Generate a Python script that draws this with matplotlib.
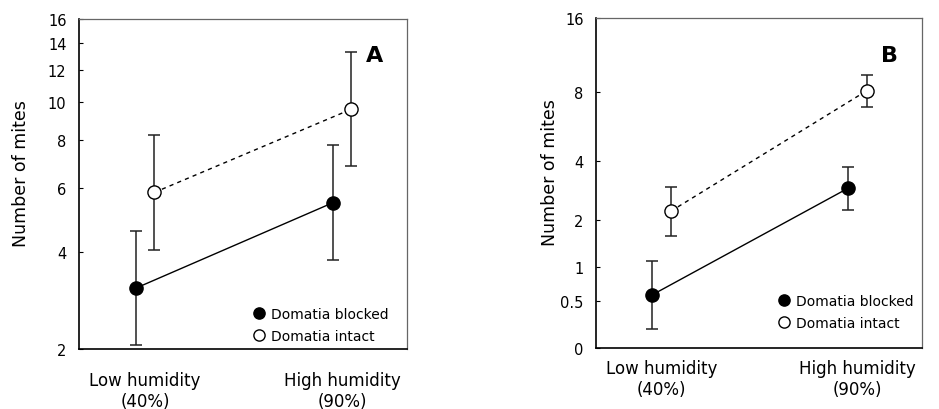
import numpy as np
import matplotlib
matplotlib.use('Agg')
import matplotlib.pyplot as plt

plt.rcParams['font.family'] = ['DejaVu Sans']

# categories on the x axis
categories = ['Low humidity\n(40%)', 'High humidity\n(90%)']

# panel A: mean and error-bar ends
a_blocked = [3.13, 5.47]
a_blocked_lo = [2.06, 3.80]
a_blocked_hi = [4.58, 7.76]
a_intact = [5.83, 9.58]
a_intact_lo = [4.06, 6.86]
a_intact_hi = [8.23, 13.3]

# panel B: mean and error-bar ends
b_blocked = [0.58, 2.95]
b_blocked_lo = [0.18, 2.28]
b_blocked_hi = [1.11, 3.75]
b_intact = [2.24, 8.12]
b_intact_lo = [1.62, 6.92]
b_intact_hi = [2.98, 9.43]

a_ticks = [2, 4, 6, 8, 10, 12, 14, 16]
b_ticks = [0, 0.5, 1, 2, 4, 8, 16]


# y axis is log(x + 1)
def fwd(v):
    return np.log2(np.asarray(v) + 1)


def inv(v):
    return 2 ** np.asarray(v) - 1


fig = plt.figure(figsize=(9.39, 4.10), dpi=100)
axA = fig.add_axes([0.0841, 0.1463, 0.3493, 0.8049])
axB = fig.add_axes([0.6347, 0.1488, 0.3472, 0.8040])

x = np.arange(len(categories))
off = 0.047


def panel(ax, blk, blo, bhi, itc, ilo, ihi, ticks, ylim, letter, xpad,
          ylab_x, leg_anchor):
    ax.set_yscale('function', functions=(fwd, inv))
    xb = x - off
    xi = x + off
    blk = np.array(blk); itc = np.array(itc)
    ax.errorbar(xb, blk, yerr=[blk - np.array(blo), np.array(bhi) - blk],
                fmt='none', ecolor='#222', elinewidth=1.1, capsize=4, capthick=1.1, zorder=2)
    ax.errorbar(xi, itc, yerr=[itc - np.array(ilo), np.array(ihi) - itc],
                fmt='none', ecolor='#222', elinewidth=1.1, capsize=4, capthick=1.1, zorder=2)
    ax.plot(xb, blk, '-', color='black', lw=1.0, marker='o', ms=9.5,
            mfc='black', mec='black', zorder=3, label='Domatia blocked')
    ax.plot(xi, itc, '--', color='black', lw=1.0, dashes=(3, 3), marker='o', ms=9.5,
            mfc='white', mec='black', mew=1.0, zorder=3, label='Domatia intact')
    ax.set_xlim(-0.335, 1.33)
    ax.set_ylim(*ylim)
    ax.set_yticks(ticks)
    ax.set_yticklabels([('%g' % t) for t in ticks])
    ax.minorticks_off()
    ax.set_xticks(x)
    ax.set_xticklabels(categories)
    ax.tick_params(axis='y', direction='in', length=3, width=0.8, pad=9, labelsize=10.5)
    ax.tick_params(axis='x', length=0, pad=xpad, labelsize=12)
    ax.set_ylabel('Number of mites', fontsize=12.5)
    ax.yaxis.set_label_coords(ylab_x, 0.535)
    for s in ['left', 'bottom']:
        ax.spines[s].set_color('black')
        ax.spines[s].set_linewidth(1.2)
    for s in ['top', 'right']:
        ax.spines[s].set_color('#666')
        ax.spines[s].set_linewidth(0.9)
    ax.text(0.90, 0.89, letter, transform=ax.transAxes, fontsize=16,
            fontweight='bold', ha='center', va='center')
    leg = ax.legend(loc='lower right', bbox_to_anchor=leg_anchor, frameon=False,
                    fontsize=10, handlelength=0.6, handletextpad=0.6,
                    labelspacing=0.55, borderaxespad=0.9, markerscale=0.85)
    for h in leg.legend_handles:
        h.set_linestyle('none')


panel(axA, a_blocked, a_blocked_lo, a_blocked_hi, a_intact, a_intact_lo, a_intact_hi,
      a_ticks, (2, 16), 'A', 16, -0.149, (1.0, -0.035))
panel(axB, b_blocked, b_blocked_lo, b_blocked_hi, b_intact, b_intact_lo, b_intact_hi,
      b_ticks, (0, 16), 'B', 8, -0.112, (1.03, 0.0))

fig.savefig('out.png', dpi=100)
